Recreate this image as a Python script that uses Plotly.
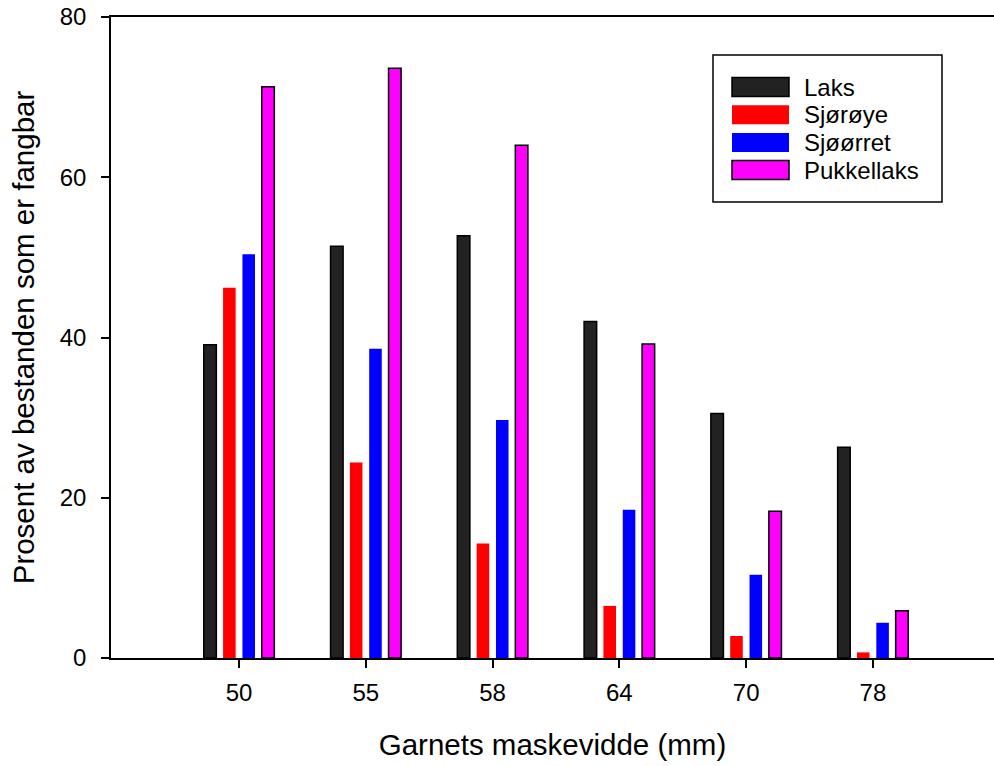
import plotly.graph_objects as go

# ---- data ----
mesh_sizes = ["50", "55", "58", "64", "70", "78"]
laks = [39.1, 51.4, 52.7, 42.0, 30.5, 26.3]
sjoroye = [46.2, 24.4, 14.3, 6.5, 2.75, 0.7]
sjoorret = [50.4, 38.6, 29.7, 18.5, 10.4, 4.4]
pukkellaks = [71.3, 73.6, 64.0, 39.2, 18.3, 5.9]

series_names = ["Laks", "Sjørøye", "Sjøørret", "Pukkellaks"]
series_values = [laks, sjoroye, sjoorret, pukkellaks]
fill_colors = ["#222222", "#ff0000", "#0000ff", "#ff00ff"]
edge_widths = [1.5, 0, 0, 1.5]

FONT = "Liberation Sans, Arial, sans-serif"
W, H = 994, 766
ML, MR, MT, MB = 111, 0, 17, 108

fig = go.Figure()
for name, vals, col, lw in zip(series_names, series_values, fill_colors, edge_widths):
    fig.add_trace(go.Bar(
        x=mesh_sizes, y=vals, name=name,
        marker=dict(color=col, line=dict(color="black", width=lw)),
        showlegend=False,
    ))

# pixel -> paper helpers for the hand-drawn legend
pw = W - ML - MR
ph = H - MT - MB
def px(x):
    return (x - ML) / pw
def py(y):
    return (H - MB - y) / ph

shapes = [dict(type="rect", xref="paper", yref="paper",
               x0=px(713), x1=px(942), y0=py(55), y1=py(202),
               line=dict(color="black", width=1.5), fillcolor="white", layer="above")]
annotations = []
row0, step = 87, 27.7
for i, (name, col, lw) in enumerate(zip(series_names, fill_colors, edge_widths)):
    cy = row0 + i * step
    shapes.append(dict(type="rect", xref="paper", yref="paper",
                       x0=px(732), x1=px(789), y0=py(cy + 9.5), y1=py(cy - 9.5),
                       fillcolor=col,
                       line=dict(color="black" if lw > 0 else col, width=lw if lw > 0 else 0),
                       layer="above"))
    annotations.append(dict(xref="paper", yref="paper", x=px(802), y=py(cy),
                            text=name, showarrow=False, xanchor="left", yanchor="middle",
                            font=dict(family=FONT, size=24, color="black")))

fig.update_layout(
    width=W, height=H,
    margin=dict(l=ML, r=MR, t=MT, b=MB, pad=0),
    paper_bgcolor="white", plot_bgcolor="white",
    barmode="group", bargap=0.39, bargroupgap=0.35,
    font=dict(family=FONT, color="black"),
    shapes=shapes, annotations=annotations,
    xaxis=dict(
        type="category", range=[-1.01, 5.955],
        showline=True, linecolor="black", linewidth=1.5, mirror=True,
        ticks="outside", ticklen=8, tickwidth=1.5, tickcolor="black",
        showgrid=False, zeroline=False,
        tickfont=dict(family=FONT, size=24, color="black"),
        ticklabelstandoff=4,
        title=dict(text="Garnets maskevidde (mm)", font=dict(family=FONT, size=29.5, color="black"),
                   standoff=30),
    ),
    yaxis=dict(
        range=[0, 80], tickvals=[0, 20, 40, 60, 80],
        showline=True, linecolor="black", linewidth=1.5, mirror=False,
        ticks="outside", ticklen=8, tickwidth=1.5, tickcolor="black",
        showgrid=False, zeroline=False,
        tickfont=dict(family=FONT, size=24, color="black"),
        ticklabelstandoff=10,
        title=dict(text="Prosent av bestanden som er fangbar", font=dict(family=FONT, size=29.5, color="black"),
                   standoff=16),
    ),
)

fig.write_html("out.html")
